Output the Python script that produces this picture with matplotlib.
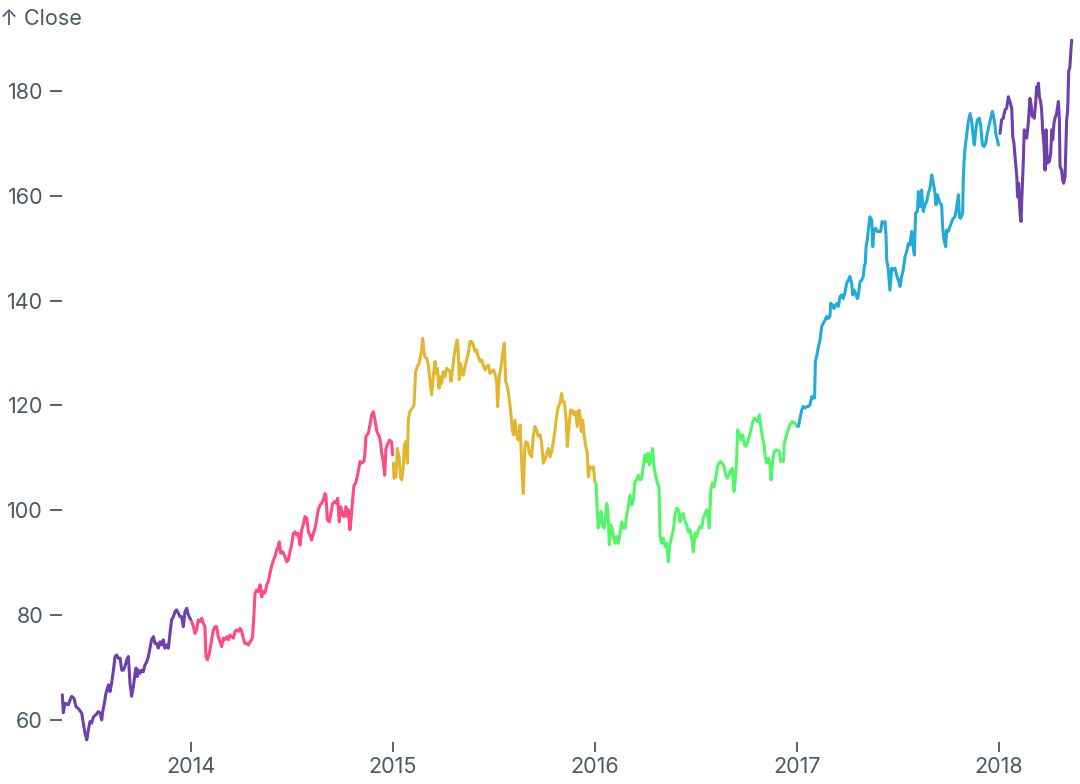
import matplotlib
matplotlib.use('Agg')
import matplotlib.pyplot as plt

# Close price (time as decimal year, value)
y2013 = [(2013.363, 64.8), (2013.368, 61.4), (2013.376, 63.2), (2013.393, 62.9), (2013.401, 63.8),
         (2013.409, 64.5), (2013.421, 64.1), (2013.431, 62.5), (2013.442, 62.2), (2013.459, 61.3),
         (2013.467, 59.4), (2013.475, 57.5), (2013.484, 56.2), (2013.492, 58.1), (2013.500, 59.7),
         (2013.508, 59.4), (2013.517, 60.6), (2013.530, 61.0), (2013.541, 61.6), (2013.550, 61.3),
         (2013.558, 60.0), (2013.563, 61.6), (2013.571, 63.2), (2013.579, 65.1), (2013.591, 66.7),
         (2013.599, 65.4), (2013.607, 67.0), (2013.616, 69.5), (2013.624, 72.1), (2013.632, 72.4),
         (2013.640, 71.8), (2013.649, 71.8), (2013.657, 69.5), (2013.665, 69.5), (2013.673, 70.2),
         (2013.682, 71.5), (2013.690, 72.1), (2013.698, 67.0), (2013.706, 64.5), (2013.715, 66.4),
         (2013.723, 68.9), (2013.728, 69.9), (2013.734, 68.3), (2013.739, 69.5), (2013.748, 68.9),
         (2013.756, 69.5), (2013.764, 69.2), (2013.772, 70.5), (2013.781, 71.1), (2013.789, 72.1),
         (2013.797, 73.7), (2013.805, 75.3), (2013.814, 75.9), (2013.822, 74.6), (2013.830, 74.6),
         (2013.838, 73.7), (2013.847, 74.9), (2013.855, 74.3), (2013.863, 75.3), (2013.871, 73.7),
         (2013.880, 74.3), (2013.888, 73.7), (2013.896, 76.5), (2013.904, 79.1), (2013.913, 79.7),
         (2013.921, 80.7), (2013.929, 81.0), (2013.937, 80.4), (2013.946, 79.7), (2013.954, 79.7),
         (2013.962, 77.8), (2013.970, 80.7), (2013.979, 81.3), (2013.987, 80.0), (2013.995, 79.4),
         (2013.999, 79.1)]

y2014 = [(2014.003, 78.8), (2014.012, 77.8), (2014.020, 76.5), (2014.028, 77.2), (2014.036, 79.1),
         (2014.045, 78.8), (2014.053, 79.4), (2014.061, 78.4), (2014.069, 77.8), (2014.074, 72.1),
         (2014.081, 71.5), (2014.091, 72.7), (2014.102, 75.3), (2014.111, 77.2), (2014.119, 77.8),
         (2014.127, 77.8), (2014.135, 75.9), (2014.144, 74.9), (2014.152, 74.0), (2014.160, 75.6),
         (2014.168, 75.3), (2014.177, 75.9), (2014.185, 75.3), (2014.193, 76.2), (2014.201, 75.9),
         (2014.210, 75.6), (2014.218, 76.9), (2014.226, 77.2), (2014.234, 76.9), (2014.243, 77.5),
         (2014.251, 76.9), (2014.259, 75.6), (2014.267, 74.6), (2014.276, 74.6), (2014.284, 74.3),
         (2014.292, 74.9), (2014.300, 75.3), (2014.305, 75.9), (2014.312, 80.4), (2014.317, 84.2),
         (2014.325, 84.8), (2014.333, 84.5), (2014.342, 85.8), (2014.350, 83.5), (2014.358, 84.5),
         (2014.366, 84.2), (2014.375, 85.8), (2014.383, 86.4), (2014.391, 88.0), (2014.399, 89.3),
         (2014.408, 90.5), (2014.416, 91.2), (2014.424, 92.4), (2014.432, 93.1), (2014.437, 94.0),
         (2014.444, 91.8), (2014.454, 92.1), (2014.465, 91.2), (2014.474, 90.2), (2014.482, 90.5),
         (2014.490, 92.1), (2014.498, 93.4), (2014.507, 95.6), (2014.515, 95.9), (2014.523, 95.3),
         (2014.531, 95.6), (2014.540, 93.4), (2014.548, 96.3), (2014.556, 97.2), (2014.564, 98.8),
         (2014.573, 98.5), (2014.581, 95.9), (2014.589, 95.3), (2014.597, 94.3), (2014.606, 95.6),
         (2014.614, 96.6), (2014.622, 98.2), (2014.630, 100.1), (2014.639, 101.0), (2014.647, 101.3),
         (2014.655, 102.0), (2014.663, 103.2), (2014.668, 102.9), (2014.675, 98.2), (2014.685, 97.8),
         (2014.691, 99.1), (2014.701, 101.3), (2014.713, 101.7), (2014.721, 101.3), (2014.726, 102.3),
         (2014.734, 97.8), (2014.741, 100.7), (2014.749, 99.1), (2014.757, 98.8), (2014.767, 100.7),
         (2014.774, 98.8), (2014.779, 100.1), (2014.787, 96.3), (2014.795, 99.4), (2014.800, 102.0),
         (2014.807, 104.8), (2014.815, 105.2), (2014.823, 106.4), (2014.828, 107.4), (2014.837, 109.3),
         (2014.845, 109.0), (2014.856, 109.3), (2014.861, 110.9), (2014.866, 114.1), (2014.878, 114.7),
         (2014.886, 116.3), (2014.894, 118.2), (2014.903, 118.8), (2014.911, 117.2), (2014.919, 115.3),
         (2014.924, 114.7), (2014.932, 114.1), (2014.939, 112.8), (2014.944, 110.9), (2014.952, 109.3),
         (2014.959, 106.7), (2014.965, 111.8), (2014.972, 112.5), (2014.982, 113.4), (2014.993, 113.1),
         (2014.998, 110.6)]

y2015 = [(2015.002, 109.0), (2015.005, 106.1), (2015.015, 106.4), (2015.021, 111.8), (2015.030, 110.2),
         (2015.038, 106.1), (2015.043, 105.8), (2015.051, 108.3), (2015.056, 112.5), (2015.064, 113.1),
         (2015.071, 109.0), (2015.076, 117.2), (2015.081, 118.5), (2015.087, 119.1), (2015.096, 119.5),
         (2015.104, 120.1), (2015.112, 126.5), (2015.120, 127.4), (2015.129, 128.0), (2015.137, 129.6),
         (2015.142, 130.6), (2015.147, 132.8), (2015.152, 130.6), (2015.158, 129.3), (2015.167, 129.0),
         (2015.175, 127.7), (2015.183, 124.9), (2015.191, 122.0), (2015.200, 125.8), (2015.208, 128.4),
         (2015.213, 126.1), (2015.219, 127.1), (2015.228, 123.3), (2015.233, 125.5), (2015.241, 124.2),
         (2015.249, 126.5), (2015.257, 125.5), (2015.266, 127.1), (2015.274, 126.8), (2015.282, 126.5),
         (2015.287, 124.6), (2015.295, 126.8), (2015.302, 129.3), (2015.310, 131.2), (2015.318, 132.5),
         (2015.323, 130.3), (2015.328, 124.9), (2015.335, 128.0), (2015.341, 126.1), (2015.348, 125.8),
         (2015.356, 127.4), (2015.365, 128.7), (2015.373, 130.0), (2015.381, 132.2), (2015.389, 132.2),
         (2015.398, 131.5), (2015.406, 130.3), (2015.414, 130.6), (2015.422, 129.3), (2015.431, 128.4),
         (2015.439, 128.7), (2015.447, 127.7), (2015.455, 126.8), (2015.464, 127.4), (2015.472, 127.7),
         (2015.480, 126.1), (2015.488, 126.5), (2015.497, 126.8), (2015.505, 126.1), (2015.513, 124.6),
         (2015.518, 119.8), (2015.526, 125.5), (2015.535, 127.4), (2015.543, 130.0), (2015.551, 131.9),
         (2015.558, 124.6), (2015.566, 123.6), (2015.574, 121.7), (2015.582, 119.1), (2015.591, 115.3),
         (2015.596, 114.4), (2015.604, 117.2), (2015.612, 114.4), (2015.620, 113.4), (2015.629, 116.3),
         (2015.637, 109.0), (2015.645, 103.2), (2015.653, 112.2), (2015.658, 113.1), (2015.667, 112.8),
         (2015.675, 110.9), (2015.686, 110.2), (2015.695, 114.4), (2015.703, 116.0), (2015.711, 115.3),
         (2015.719, 114.1), (2015.728, 114.4), (2015.736, 112.8), (2015.744, 109.0), (2015.752, 109.6),
         (2015.761, 110.9), (2015.769, 111.8), (2015.777, 110.2), (2015.785, 111.2), (2015.794, 113.1),
         (2015.802, 115.3), (2015.810, 117.9), (2015.818, 119.8), (2015.827, 120.4), (2015.835, 122.3),
         (2015.840, 120.7), (2015.848, 120.7), (2015.856, 117.9), (2015.863, 112.2), (2015.871, 116.0),
         (2015.879, 119.1), (2015.888, 119.1), (2015.896, 118.2), (2015.904, 118.8), (2015.912, 116.0),
         (2015.921, 119.1), (2015.926, 118.2), (2015.932, 115.0), (2015.939, 117.2), (2015.945, 114.7),
         (2015.954, 112.2), (2015.962, 110.9), (2015.967, 106.4), (2015.975, 108.3), (2015.983, 108.0),
         (2015.992, 108.3), (2015.999, 105.5)]

y2016 = [(2016.005, 105.2), (2016.011, 100.1), (2016.016, 96.6), (2016.025, 98.8), (2016.030, 99.8),
         (2016.036, 97.2), (2016.045, 96.6), (2016.049, 97.5), (2016.058, 101.3), (2016.064, 100.1),
         (2016.071, 93.4), (2016.078, 97.2), (2016.086, 96.3), (2016.091, 95.0), (2016.099, 93.7),
         (2016.107, 95.0), (2016.116, 93.7), (2016.124, 95.6), (2016.132, 97.8), (2016.140, 96.6),
         (2016.149, 96.6), (2016.157, 99.1), (2016.165, 100.7), (2016.173, 102.9), (2016.182, 101.0),
         (2016.190, 102.0), (2016.198, 105.5), (2016.206, 105.8), (2016.215, 106.7), (2016.223, 105.8),
         (2016.231, 106.1), (2016.239, 108.3), (2016.248, 110.6), (2016.256, 109.3), (2016.264, 110.9),
         (2016.269, 108.7), (2016.276, 109.3), (2016.285, 111.8), (2016.292, 108.3), (2016.300, 106.7),
         (2016.309, 105.2), (2016.317, 104.5), (2016.322, 95.0), (2016.330, 93.7), (2016.338, 94.7),
         (2016.347, 93.1), (2016.355, 93.7), (2016.363, 90.2), (2016.371, 93.4), (2016.380, 95.0),
         (2016.388, 96.3), (2016.396, 99.1), (2016.404, 100.4), (2016.413, 100.1), (2016.421, 97.8),
         (2016.429, 99.1), (2016.437, 99.4), (2016.446, 97.8), (2016.454, 97.2), (2016.462, 95.9),
         (2016.470, 96.3), (2016.479, 94.7), (2016.487, 92.1), (2016.495, 95.6), (2016.503, 95.0),
         (2016.512, 96.3), (2016.520, 96.9), (2016.528, 96.6), (2016.536, 98.5), (2016.545, 99.4),
         (2016.553, 100.1), (2016.561, 98.2), (2016.566, 96.6), (2016.573, 103.9), (2016.581, 105.2),
         (2016.589, 104.5), (2016.597, 106.1), (2016.606, 108.3), (2016.614, 109.0), (2016.622, 109.3),
         (2016.630, 109.0), (2016.639, 108.3), (2016.647, 106.7), (2016.655, 106.1), (2016.663, 106.7),
         (2016.672, 107.7), (2016.680, 108.0), (2016.688, 103.6), (2016.693, 105.2), (2016.701, 109.6),
         (2016.706, 115.3), (2016.714, 114.7), (2016.723, 113.4), (2016.731, 114.4), (2016.739, 112.5),
         (2016.748, 112.2), (2016.756, 113.1), (2016.764, 114.1), (2016.772, 115.3), (2016.781, 116.9),
         (2016.789, 117.6), (2016.797, 117.2), (2016.805, 116.9), (2016.814, 118.2), (2016.820, 116.3),
         (2016.828, 114.1), (2016.837, 112.5), (2016.843, 110.2), (2016.850, 109.0), (2016.858, 109.9),
         (2016.866, 108.7), (2016.871, 105.8), (2016.880, 109.6), (2016.888, 111.2), (2016.896, 111.5),
         (2016.904, 111.5), (2016.913, 111.2), (2016.919, 109.3), (2016.926, 109.6), (2016.932, 109.3),
         (2016.937, 112.8), (2016.944, 113.7), (2016.949, 114.4), (2016.957, 115.6), (2016.965, 116.3),
         (2016.974, 116.9), (2016.982, 116.9), (2016.990, 116.6), (2016.999, 116.0)]

y2017 = [(2017.007, 116.0), (2017.015, 117.6), (2017.023, 119.1), (2017.031, 119.8), (2017.040, 119.5),
         (2017.048, 119.8), (2017.056, 119.8), (2017.064, 120.1), (2017.073, 121.7), (2017.081, 121.4),
         (2017.087, 121.4), (2017.091, 128.4), (2017.097, 129.3), (2017.106, 131.2), (2017.114, 132.5),
         (2017.122, 135.0), (2017.130, 135.7), (2017.139, 136.3), (2017.147, 137.0), (2017.155, 136.6),
         (2017.163, 137.0), (2017.167, 139.5), (2017.175, 139.2), (2017.183, 138.5), (2017.191, 139.2),
         (2017.200, 139.5), (2017.205, 138.9), (2017.213, 140.8), (2017.221, 141.1), (2017.229, 140.4),
         (2017.238, 141.7), (2017.246, 143.3), (2017.254, 143.9), (2017.262, 144.6), (2017.271, 143.3),
         (2017.276, 141.1), (2017.282, 142.0), (2017.290, 141.4), (2017.299, 140.4), (2017.304, 141.1),
         (2017.312, 143.6), (2017.320, 143.9), (2017.328, 144.6), (2017.333, 146.5), (2017.338, 147.1),
         (2017.342, 150.3), (2017.348, 151.6), (2017.353, 153.5), (2017.361, 156.0), (2017.370, 155.4),
         (2017.375, 150.3), (2017.381, 153.5), (2017.389, 153.8), (2017.398, 153.2), (2017.406, 153.2),
         (2017.414, 153.2), (2017.421, 155.1), (2017.427, 154.8), (2017.436, 155.1), (2017.441, 152.2),
         (2017.444, 147.8), (2017.452, 145.9), (2017.460, 142.0), (2017.469, 146.2), (2017.477, 145.9),
         (2017.485, 146.2), (2017.493, 144.9), (2017.502, 143.9), (2017.510, 142.7), (2017.518, 144.6),
         (2017.526, 145.9), (2017.535, 148.4), (2017.543, 149.4), (2017.551, 150.9), (2017.559, 150.6),
         (2017.568, 153.2), (2017.573, 150.9), (2017.581, 148.7), (2017.587, 156.7), (2017.596, 157.0),
         (2017.601, 160.8), (2017.609, 157.9), (2017.617, 161.1), (2017.625, 157.0), (2017.634, 158.3),
         (2017.642, 158.9), (2017.650, 160.5), (2017.658, 161.4), (2017.667, 164.0), (2017.675, 162.4),
         (2017.683, 160.5), (2017.688, 158.3), (2017.695, 160.2), (2017.700, 159.5), (2017.708, 158.6),
         (2017.716, 158.3), (2017.721, 154.1), (2017.728, 151.6), (2017.736, 150.3), (2017.741, 153.5),
         (2017.749, 153.2), (2017.757, 154.1), (2017.766, 155.1), (2017.774, 155.7), (2017.782, 156.0),
         (2017.790, 157.6), (2017.799, 160.2), (2017.804, 156.0), (2017.810, 155.7), (2017.820, 156.7),
         (2017.823, 163.0), (2017.827, 166.5), (2017.832, 169.1), (2017.840, 171.6), (2017.848, 174.2),
         (2017.857, 175.7), (2017.865, 174.2), (2017.873, 171.0), (2017.878, 169.7), (2017.886, 172.9),
         (2017.893, 174.5), (2017.903, 174.8), (2017.909, 173.5), (2017.918, 169.7), (2017.926, 169.4),
         (2017.934, 170.0), (2017.942, 171.9), (2017.951, 173.5), (2017.959, 174.8), (2017.967, 176.1),
         (2017.972, 175.4), (2017.980, 173.5), (2017.985, 171.6), (2017.992, 170.7), (2017.997, 169.7)]

y2018 = [(2018.005, 171.9), (2018.013, 174.5), (2018.021, 174.8), (2018.030, 176.4), (2018.038, 176.7),
         (2018.046, 178.9), (2018.054, 178.0), (2018.063, 176.7), (2018.068, 171.3), (2018.074, 170.0),
         (2018.081, 166.8), (2018.088, 163.7), (2018.092, 159.8), (2018.097, 162.4), (2018.104, 156.7),
         (2018.109, 155.1), (2018.114, 160.5), (2018.120, 166.2), (2018.125, 172.6), (2018.132, 171.9),
         (2018.137, 171.0), (2018.145, 173.8), (2018.153, 178.6), (2018.158, 177.7), (2018.165, 175.1),
         (2018.170, 175.7), (2018.175, 174.8), (2018.182, 178.0), (2018.186, 180.8), (2018.191, 179.2),
         (2018.195, 181.5), (2018.200, 178.9), (2018.206, 178.0), (2018.211, 176.4), (2018.216, 172.6),
         (2018.223, 169.4), (2018.228, 164.9), (2018.233, 172.6), (2018.239, 166.2), (2018.244, 167.2),
         (2018.249, 166.5), (2018.256, 168.1), (2018.261, 172.6), (2018.266, 170.7), (2018.272, 173.8),
         (2018.277, 174.8), (2018.285, 175.7), (2018.294, 178.0), (2018.299, 174.5), (2018.302, 165.6),
         (2018.310, 164.9), (2018.315, 163.0), (2018.320, 162.4), (2018.327, 163.7), (2018.335, 174.5),
         (2018.340, 176.4), (2018.345, 183.7), (2018.351, 184.6), (2018.356, 187.8), (2018.360, 189.7)]

years = [2013, 2014, 2015, 2016, 2017, 2018]
series = [y2013, y2014, y2015, y2016, y2017, y2018]
colors = ['#6e40aa', '#fe4b83', '#e2b72f', '#52f667', '#23abd8', '#6e40aa']
y_ticks = [60, 80, 100, 120, 140, 160, 180]

plt.rcParams['font.family'] = ['Inter', 'DejaVu Sans']
text_col = '#4b5866'
tick_col = '#2c3844'

fig = plt.figure(figsize=(10.8, 7.84), dpi=100)
ax = fig.add_axes([62 / 1080, 44 / 784, 1010 / 1080, 700 / 784])

# one line per year, coloured by year
for yr, pts, col in zip(years, series, colors):
    t = [p[0] for p in pts]
    v = [p[1] for p in pts]
    ax.plot(t, v, color=col, lw=2.2, solid_joinstyle='round', solid_capstyle='round', clip_on=False)

ax.set_xlim(2013.3614, 2018.3614)
ax.set_ylim(56.18, 189.73)

ax.set_xticks(years[1:])
ax.set_xticklabels([str(y) for y in years[1:]])
ax.set_yticks(y_ticks)

for s in ax.spines.values():
    s.set_visible(False)
ax.spines['bottom'].set_position(('outward', 1.5))

ax.tick_params(axis='y', length=8.6, width=1.1, color=tick_col, pad=5.0,
               labelsize=15.5, labelcolor=text_col)
ax.tick_params(axis='x', length=7.2, width=1.1, color=tick_col, pad=3.5,
               labelsize=15.5, labelcolor=text_col)

fig.text(0, 1 - 19 / 784, '↑ Close', fontsize=15.5, color=text_col, va='center', ha='left')

fig.savefig('out.png', dpi=100, facecolor='white')
